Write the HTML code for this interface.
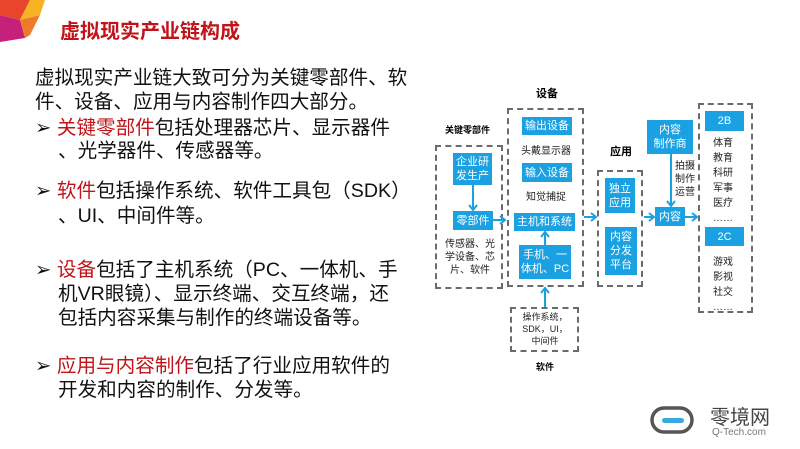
<!DOCTYPE html>
<html><head><meta charset="utf-8"><style>
body{margin:0;width:800px;height:449px;background:#fff;position:relative;overflow:hidden;font-family:"Liberation Sans","Noto Sans CJK SC",sans-serif}
.a{position:absolute;white-space:nowrap}
.t{font-size:19.6px;color:#111;left:35px;line-height:24px}
.r{color:#c0141a}
.b{position:absolute;background:#1ba1e2;color:#fff;display:flex;align-items:center;justify-content:center;text-align:center;font-size:11px;line-height:14px}
.d{position:absolute;border:2px dashed #6b6b6b;box-sizing:border-box}
.s{position:absolute;font-size:10px;color:#222;text-align:center;line-height:13px}
</style></head><body>
<svg class="a" style="left:0;top:0" width="50" height="45"><polygon points="0,0 30,0 20,20 0,15" fill="#e8452a"/><polygon points="30,0 45,0 40,15 20,20" fill="#f6b325"/><polygon points="0,15 20,20 25,38 0,42" fill="#c5207a"/><polygon points="20,20 40,15 30,35 25,38" fill="#ef7b2a"/></svg>
<div class="a" style="left:60px;top:15px;font-size:20px;font-weight:bold;color:#c0141a">虚拟现实产业链构成</div>
<div class="a t" style="top:66px">虚拟现实产业链大致可分为关键零部件、软</div>
<div class="a t" style="top:90px">件、设备、应用与内容制作四大部分。</div>
<div class="a t" style="top:116px">➢ <span class="r">关键零部件</span>包括处理器芯片、显示器件</div>
<div class="a t" style="top:139px;left:58px">、光学器件、传感器等。</div>
<div class="a t" style="top:179px">➢ <span class="r">软件</span>包括操作系统、软件工具包（SDK）</div>
<div class="a t" style="top:204px;left:58px">、UI、中间件等。</div>
<div class="a t" style="top:258px">➢ <span class="r">设备</span>包括了主机系统（PC、一体机、手</div>
<div class="a t" style="top:282px;left:58px">机VR眼镜）、显示终端、交互终端，还</div>
<div class="a t" style="top:306px;left:58px">包括内容采集与制作的终端设备等。</div>
<div class="a t" style="top:354px">➢ <span class="r">应用与内容制作</span>包括了行业应用软件的</div>
<div class="a t" style="top:378px;left:58px">开发和内容的制作、分发等。</div>

<div class="a" style="left:536px;top:85px;font-size:11px;font-weight:bold">设备</div>
<div class="a" style="left:445px;top:123px;font-size:9px;font-weight:bold">关键零部件</div>
<div class="a" style="left:610px;top:143px;font-size:11px;font-weight:bold">应用</div>
<div class="a" style="left:536px;top:360px;font-size:9px;font-weight:bold">软件</div>
<div class="d" style="left:435px;top:145px;width:68px;height:144px"></div>
<div class="d" style="left:507px;top:108px;width:77px;height:179px"></div>
<div class="d" style="left:510px;top:307px;width:69px;height:45px"></div>
<div class="d" style="left:597px;top:170px;width:46px;height:117px"></div>
<div class="d" style="left:698px;top:103px;width:55px;height:210px"></div>
<div class="b" style="left:453px;top:153px;width:39px;height:32px">企业研<br>发生产</div>
<div class="b" style="left:453px;top:211px;width:40px;height:19px">零部件</div>
<div class="s" style="left:440px;top:238px;width:60px">传感器、光<br>学设备、芯<br>片、软件</div>
<div class="b" style="left:522px;top:117px;width:50px;height:18px">输出设备</div>
<div class="s" style="left:510px;top:145px;width:72px">头戴显示器</div>
<div class="b" style="left:522px;top:163px;width:50px;height:19px">输入设备</div>
<div class="s" style="left:510px;top:191px;width:72px">知觉捕捉</div>
<div class="b" style="left:514px;top:213px;width:61px;height:18px">主机和系统</div>
<div class="b" style="left:519px;top:245px;width:52px;height:34px">手机、一<br>体机、PC</div>
<div class="s" style="left:511px;top:311px;width:68px;font-size:9px;line-height:12px">操作系统，<br>SDK，UI，<br>中间件</div>
<div class="b" style="left:605px;top:178px;width:30px;height:35px">独立<br>应用</div>
<div class="b" style="left:605px;top:227px;width:32px;height:48px">内容<br>分发<br>平台</div>
<div class="b" style="left:647px;top:120px;width:46px;height:34px">内容<br>制作商</div>
<div class="s" style="left:673px;top:160px;width:24px">拍摄<br>制作<br>运营</div>
<div class="b" style="left:655px;top:207px;width:30px;height:19px">内容</div>
<div class="b" style="left:705px;top:111px;width:39px;height:20px">2B</div>
<div class="s" style="left:703px;top:136px;width:40px;line-height:15px">体育<br>教育<br>科研<br>军事<br>医疗<br>……</div>
<div class="b" style="left:705px;top:227px;width:39px;height:19px">2C</div>
<div class="s" style="left:703px;top:255px;width:40px;line-height:15px">游戏<br>影视<br>社交<br>……</div>
<svg class="a" style="left:0;top:0" width="800" height="449" fill="none" stroke="#1ba1e2" stroke-width="2">
<path d="M473 185V210M469 205l4 5 4-5"/>
<path d="M493 220H505M500 216l5 4-5 4"/>
<path d="M584 217H596M591 213l5 4-5 4"/>
<path d="M644 217H654M649 213l5 4-5 4"/>
<path d="M671 154V206M667 201l4 5 4-5"/>
<path d="M685 217H697M692 213l5 4-5 4"/>
<path d="M545 245V232M541 237l4-5 4 5"/>
<path d="M545 307V288M541 293l4-5 4 5"/>
</svg>
<svg class="a" style="left:650px;top:405px" width="45" height="30"><rect x="2" y="3" width="40" height="24" rx="12" fill="none" stroke="#555" stroke-width="3.5"/><rect x="12" y="13" width="22" height="5" rx="2.5" fill="#3aa9e0"/></svg>
<div class="a" style="left:710px;top:401px;font-size:20px;color:#444">零境网</div>
<div class="a" style="left:712px;top:427px;font-size:10px;color:#777">Q-Tech.com</div>
</body></html>
